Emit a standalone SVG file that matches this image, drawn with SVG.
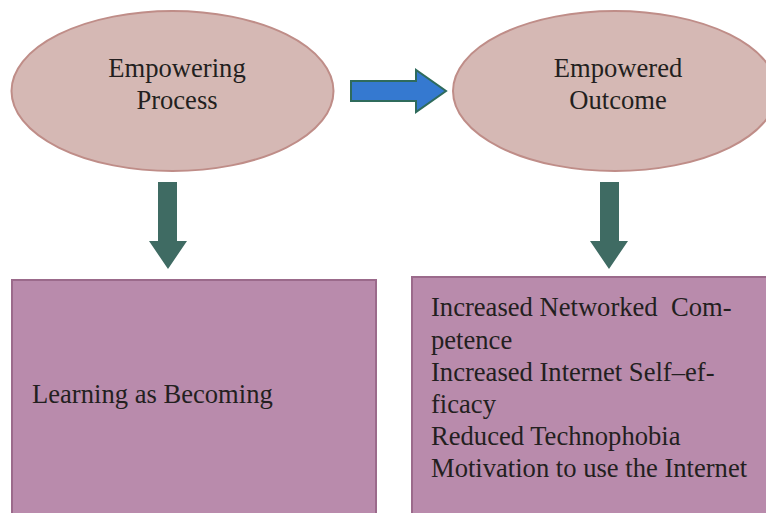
<svg xmlns="http://www.w3.org/2000/svg" width="766" height="513" viewBox="0 0 766 513">
<style>
.ell{fill:#d5b8b4;stroke:#bf8d88;stroke-width:2}
.box{fill:#b98bac;stroke:#9b6a8b;stroke-width:2}
.t{font-family:"Liberation Serif","Times New Roman",serif;font-size:26.6px;fill:#231f20;white-space:pre}
.c{text-anchor:middle}
.down{fill:#3f6b63}
.right{fill:#3579d0;stroke:#2f6b5c;stroke-width:2}
</style>
<rect width="766" height="513" fill="#ffffff"/>
<g id="empowering-process">
<ellipse class="ell" cx="172.5" cy="91" rx="161" ry="80"/>
<text class="t c" x="177" y="77">Empowering</text>
<text class="t c" x="177" y="109">Process</text>
</g>
<g id="empowered-outcome">
<ellipse class="ell" cx="615" cy="91" rx="162" ry="80"/>
<text class="t c" x="618" y="77">Empowered</text>
<text class="t c" x="618" y="109">Outcome</text>
</g>
<g id="learning-as-becoming">
<rect class="box" x="12" y="280" width="364" height="245"/>
<text class="t" x="32" y="403">Learning as Becoming</text>
</g>
<g id="outcomes">
<rect class="box" x="412" y="277" width="370" height="250"/>
<text class="t" x="431" y="316" xml:space="preserve">Increased Networked  Com-</text>
<text class="t" x="431" y="349">petence</text>
<text class="t" x="431" y="381">Increased Internet Self–ef-</text>
<text class="t" x="431" y="413">ficacy</text>
<text class="t" x="431" y="445">Reduced Technophobia</text>
<text class="t" x="431" y="477">Motivation to use the Internet</text>
</g>
<g id="connectors">
<path class="right" d="M351,81 H416 V70 L446,91 L416,112 V101 H351 Z"/>
<path class="down" d="M158,182 H177 V241 H187 L168,269 L149,241 H158 Z"/>
<path class="down" d="M600,182 H619 V241 H628 L609,269 L590,241 H600 Z"/>
</g>
</svg>
